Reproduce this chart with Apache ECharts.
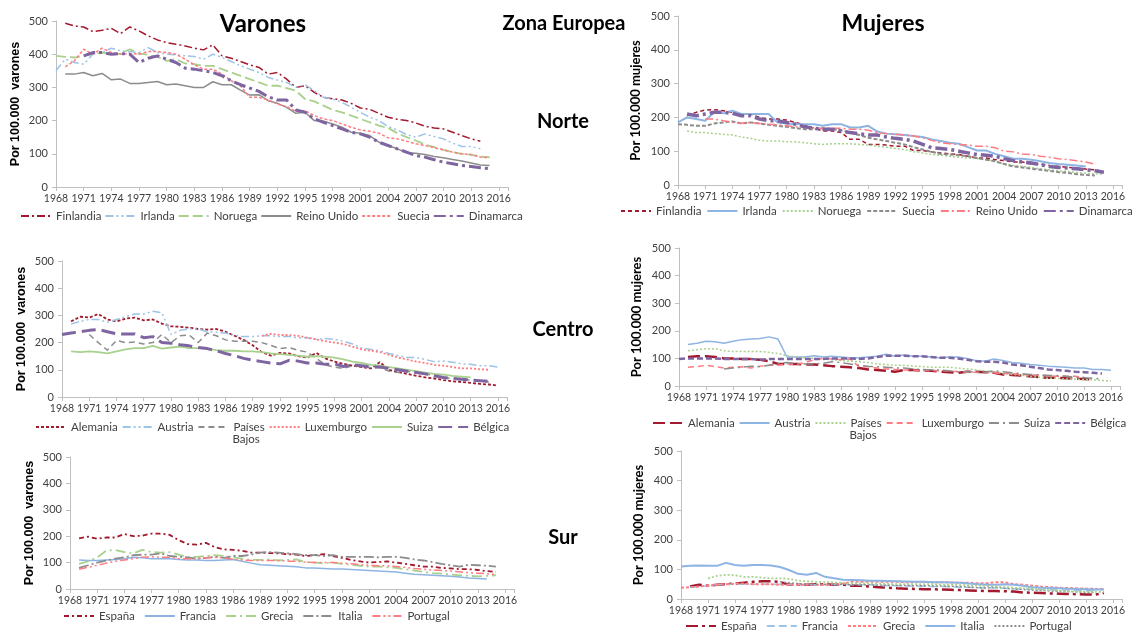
<!DOCTYPE html>
<html><head><meta charset="utf-8">
<script src="https://cdn.jsdelivr.net/npm/echarts@6/dist/echarts.min.js"></script>
<style>html,body{margin:0;padding:0;background:#fff}#c{width:1134px;height:632px}</style>
</head><body><div id="c"></div>
<script>
// ---------- tick labels ----------
const X_MIN = 1968, X_MAX = 2017, X_STEP = 3;
const Y_TICKS = [0, 100, 200, 300, 400, 500];

// ---------- Varones · Norte ----------
const VN_FINLANDIA = [493,485,482,468,472,478,462,482,470,455, 443,435,430,425,418,413,428,395,388,378, 368,360,340,345,325,300,305,285,270,266, 262,252,238,234,222,210,204,200,193,183, 178,175,165,155,145,138]; // 1969-
const VN_IRLANDA = [350,385,375,370,400,405,418,410,408,405, 420,405,400,398,395,393,385,400,390,378, 365,355,345,330,322,315,300,308,290,270, 265,255,240,225,210,200,182,172,158,150, 160,152,145,132,122,122,115]; // 1968-
const VN_NORUEGA = [395,392,390,395,400,405,400,402,415,402, 398,392,380,385,372,370,365,365,355,345, 335,325,315,305,305,298,290,265,258,245, 232,225,215,205,195,185,178,162,150,140, 128,120,112,105,100,97,92,90]; // 1968-
const VN_REINOUNIDO = [340,340,345,335,342,323,325,312,312,315, 318,308,310,305,300,300,317,308,308,292, 277,278,260,252,240,222,225,200,198,190, 180,165,162,155,135,125,115,103,102,98, 92,88,83,78,72,66,65]; // 1969-
const VN_SUECIA = [362,380,415,400,418,405,400,402,400,408, 408,405,400,385,368,355,355,340,320,305, 270,270,262,250,242,228,230,215,205,200, 190,180,172,168,162,148,145,138,130,125, 118,112,105,100,98,90,88]; // 1969-
const VN_DINAMARCA = [395,405,405,400,402,400,375,388,395,385, 375,358,355,350,345,335,320,308,298,288, 272,262,262,232,225,205,195,185,175,165, 160,150,135,125,115,105,95,90,82,75, 70,65,62,58,55]; // 1971-

// ---------- Mujeres · Norte ----------
const MN_FINLANDIA = [205,215,222,223,220,215,210,210,200,195, 195,192,185,178,168,160,160,155,135,135, 120,120,118,115,115,102,102,98,95,92, 90,85,80,80,75,72,68,68,62,62, 58,55,52,50,47,45,40]; // 1969-
const MN_IRLANDA = [185,200,195,190,215,212,220,210,210,210, 210,185,182,180,180,180,175,180,180,170, 170,175,158,152,150,148,145,142,135,130, 125,122,112,102,102,92,85,78,78,75, 70,65,62,60,58,55]; // 1968-
const MN_NORUEGA = [160,155,155,152,150,148,142,138,132,130, 130,128,128,125,122,120,122,122,122,120, 118,115,112,108,105,98,95,90,88,85, 82,80,78,75,70,62,58,55,52,48, 45,42,40,37,35,33,32]; // 1969-
const MN_SUECIA = [180,178,175,175,182,185,188,182,185,182, 178,175,172,168,165,165,168,165,162,155, 148,140,135,130,125,120,112,105,98,92, 90,88,85,80,75,70,62,55,52,48, 45,42,38,36,32,30,28]; // 1968-
const MN_REINOUNIDO = [195,195,190,185,183,185,182,180,178,175, 172,170,168,168,168,168,165,165,162,155, 152,150,148,145,140,132,125,122,120,118, 115,115,110,100,98,92,90,85,82,78, 75,72,68,62]; // 1971-
const MN_DINAMARCA = [210,205,210,215,215,212,205,205,195,190, 190,185,180,172,168,165,165,160,155,152, 148,148,142,138,135,130,120,110,108,105, 100,95,90,88,85,78,72,68,65,60, 55,52,50,48,45,42,38]; // 1969-

// ---------- Varones · Centro ----------
const VC_ALEMANIA = [278,295,292,305,285,278,288,292,282,285, 270,260,258,255,250,248,250,240,225,210, 190,165,152,162,160,150,145,162,142,130, 122,115,110,105,128,100,92,85,78,72, 68,62,58,55,52,48,46,42]; // 1969-
const VC_AUSTRIA = [268,278,285,285,275,285,295,305,305,315, 310,230,245,250,250,240,238,235,228,222, 222,225,225,222,222,218,218,212,215,212, 205,195,180,175,170,160,152,145,145,138, 130,132,128,122,120,115,115,110]; // 1969-
const VC_PAISESBAJOS = [230,200,172,208,200,202,195,200,230,200, 225,228,200,235,225,210,205,205,205,200, 190,178,182,172,165,142,118,110,105,115, 112,108,108,95,90,95,88,85,78,72, 68,65,62,60,55]; // 1971-
const VC_LUXEMBURGO = [225,232,228,228,225,218,212,205,200,195, 185,175,170,165,155,145,138,130,125,118, 115,110,105,105,102,100]; // 1990-
const VC_SUIZA = [168,165,168,165,160,168,175,180,180,188, 178,182,185,180,180,178,172,170,170,168, 168,165,160,158,155,152,148,150,148,145, 138,130,125,118,115,110,105,100,95,90, 85,82,78,75,72]; // 1969-
const VC_BELGICA = [230,235,240,245,248,240,232,232,232,218, 222,200,198,192,188,182,178,170,160,152, 142,135,130,125,122,135,132,125,125,120, 122,112,118,115,110,110,105,100,95,90, 85,78,72,68,65,62,60,58]; // 1968-

// ---------- Mujeres · Centro ----------
const MC_ALEMANIA = [105,108,108,105,100,100,98,98,95,90, 80,80,80,78,78,75,72,70,68,65, 60,58,55,52,58,58,55,55,52,50, 48,52,52,50,48,42,40,38,35,32, 30,30,28,27,25,24]; // 1969-
const MC_AUSTRIA = [150,155,162,160,155,162,168,170,172,178, 170,105,105,105,110,105,108,105,102,102, 105,108,115,108,112,108,108,105,102,105, 105,100,92,90,98,92,85,82,78,75, 72,70,68,65,65,60,60,57]; // 1969-
const MC_PAISESBAJOS = [128,132,135,135,128,125,125,125,125,122, 118,110,105,102,100,98,95,92,90,88, 85,80,78,75,75,72,70,68,68,68, 65,62,58,55,50,45,42,40,35,32, 28,28,25,25,23,22,20,18]; // 1969-
const MC_LUXEMBURGO = [68,70,75,70,65,68,70,65,72,75, 75,80,78,85,95,100,98,95,98,70, 70,65,62,60,58,58,55,55,55,55, 52,50,50,48,48,45,45,42,40,40, 38,35,35,35,32]; // 1969-
const MC_SUIZA = [62,65,68,72,70,75,82,85,82,80, 80,82,88,85,80,75,72,70,68,65, 65,62,60,58,58,55,52,52,50,50, 55,52,48,45,42,40,38,38,35,32, 30,28,25]; // 1973-
const MC_BELGICA = [98,100,100,100,100,98,98,98,98,95, 98,98,98,98,98,98,98,100,100,100, 98,100,105,110,110,110,108,108,105,102, 102,100,95,90,88,88,85,78,75,70, 65,60,58,55,52,50,48,45]; // 1968-

// ---------- Varones · Sur ----------
const VS_ESPANA = [192,198,190,195,195,208,200,202,210,210, 205,185,170,168,175,158,150,148,145,138, 138,136,135,132,130,125,128,132,125,118, 110,105,100,102,105,100,95,90,85,85, 80,78,75,75,72,68,65]; // 1969-
const VS_FRANCIA = [110,108,108,110,112,115,120,118,115,115, 115,112,110,110,108,108,110,112,105,98, 92,90,88,86,84,80,80,78,76,76, 74,72,70,68,66,64,60,56,54,52, 50,48,45,42,40,38]; // 1969-
const VS_GRECIA = [95,105,120,145,148,140,135,148,140,138, 140,130,120,122,125,128,125,120,115,110, 110,112,108,110,112,102,100,98,100,95, 92,88,85,85,82,80,75,70,65,60, 58,55,52,50,48,50,52]; // 1969-
const VS_ITALIA = [80,90,100,108,115,120,128,130,130,135, 125,122,120,115,118,122,118,125,125,130, 138,140,138,135,132,128,128,125,128,122, 122,122,122,120,122,122,118,112,108,102, 95,90,85,92,90,88,85]; // 1969-
const VS_PORTUGAL = [75,82,90,98,105,110,115,120,122,120, 120,115,115,115,118,120,118,112,110,108, 108,108,108,105,105,102,100,100,100,98, 96,92,90,88,88,85,82,78,75,72, 70,68,65,62,60,58,55]; // 1969-

// ---------- Mujeres · Sur ----------
const MS_ESPANA = [42,48,45,48,50,52,55,58,60,60, 58,48,48,48,50,50,48,48,45,45, 42,40,38,36,35,34,33,33,32,31, 30,29,28,27,27,26,25,22,21,20, 19,18,17,16,15,15,20]; // 1969-
const MS_FRANCIA = [40,42,45,48,50,50,50,50,50,50, 50,48,48,48,48,48,48,48,48,48, 48,46,45,45,44,44,43,42,42,41, 40,40,38,38,37,36,35,34,33,32, 31,30,30,29,28,28]; // 1969-
const MS_GRECIA = [38,40,42,45,48,50,52,52,50,50, 50,48,48,48,48,48,48,50,52,58, 58,58,58,58,58,57,57,58,57,57, 56,55,55,53,53,57,56,50,48,45, 42,40,38,37,36,35,34,33]; // 1968-
const MS_ITALIA = [110,112,113,112,112,122,115,112,115,115, 113,108,98,85,82,88,75,70,65,64, 63,62,62,61,60,59,58,58,57,57, 56,55,52,50,48,48,50,48,45,40, 38,37,36,35,34,33,32,32]; // 1968-
const MS_PORTUGAL = [58,55,52,50,50,50,50,50,48,48, 48,47,47,46,46,45,45,44,44,43, 42,40,38,37,40,36,34,32,30,29, 27,26,25,24,22,22]; // 1979-
const MS_OTRA = [70,78,82,80,75,75,72,70,70,68, 62,60,58,58,56,55,54,53,52,52, 51,50,50,50,50,50,48,48,47,46, 45,44,42,40,38,36,35,32,30,28, 26,25,25,24,24]; // 1971- (serie sin leyenda)

// ---------- colours ----------
const C = {red:'#A3192E', blue:'#9DC3E6', blue2:'#8EB4E3', green:'#A9D18E', gray:'#8C8C8C', pink:'#FF7C80', purple:'#7E64A0'};

const LEG_FONT = 11.5, LEG_ICON = 30;
const panels = [
  {grid:{left:56, top:21, width:452, height:166}, yname:'Por 100.000  varones', ynameFont:'Liberation Sans', ynameGap:34,
   legend:{left:20, top:210, itemGap:3},
   series:[
    ['Finlandia', 1969, VN_FINLANDIA, C.red, 1.5, [8,3,2,3]],
    ['Irlanda', 1968, VN_IRLANDA, C.blue, 1.5, [8,3,2,3,2,3]],
    ['Noruega', 1968, VN_NORUEGA, C.green, 1.8, [10,4]],
    ['Reino Unido', 1969, VN_REINOUNIDO, C.gray, 1.5, 'solid'],
    ['Suecia', 1969, VN_SUECIA, C.pink, 1.5, [3,2]],
    ['Dinamarca', 1971, VN_DINAMARCA, C.purple, 3, [12,4,3,4]]
   ]},
  {grid:{left:678, top:16, width:444, height:169}, yname:'Por 100.000 mujeres', ynameFont:'Lato', ynameGap:36,
   legend:{left:620, top:205, itemGap:5},
   series:[
    ['Finlandia', 1969, MN_FINLANDIA, C.red, 1.5, [4,3]],
    ['Irlanda', 1968, MN_IRLANDA, C.blue2, 2, 'solid'],
    ['Noruega', 1969, MN_NORUEGA, C.green, 1.5, [2,2]],
    ['Suecia', 1968, MN_SUECIA, C.gray, 2, [4,2]],
    ['Reino Unido', 1971, MN_REINOUNIDO, C.pink, 1.5, [8,3,2,3]],
    ['Dinamarca', 1969, MN_DINAMARCA, C.purple, 3.5, [12,4,3,4]]
   ]},
  {grid:{left:62, top:261, width:445, height:136}, yname:'Por 100.000  varones', ynameFont:'Liberation Sans', ynameGap:34,
   legend:{left:35, top:421, itemGap:4}, bajosY:439,
   series:[
    ['Alemania', 1969, VC_ALEMANIA, C.red, 1.8, [3,2]],
    ['Austria', 1969, VC_AUSTRIA, C.blue, 1.5, [8,3,2,3,2,3]],
    ['Países Bajos', 1971, VC_PAISESBAJOS, C.gray, 1.5, [6,4]],
    ['Luxemburgo', 1990, VC_LUXEMBURGO, C.pink, 1.8, [2,2]],
    ['Suiza', 1969, VC_SUIZA, C.green, 1.8, 'solid'],
    ['Bélgica', 1968, VC_BELGICA, C.purple, 3, [14,6]]
   ]},
  {grid:{left:679, top:248, width:441, height:138}, yname:'Por 100.000 mujeres', ynameFont:'Lato', ynameGap:36,
   legend:{left:652, top:417, itemGap:4}, bajosY:435,
   series:[
    ['Alemania', 1969, MC_ALEMANIA, C.red, 2.5, [12,5]],
    ['Austria', 1969, MC_AUSTRIA, C.blue2, 1.5, 'solid'],
    ['Países Bajos', 1969, MC_PAISESBAJOS, C.green, 1.5, [2,2]],
    ['Luxemburgo', 1969, MC_LUXEMBURGO, C.pink, 1.5, [6,4]],
    ['Suiza', 1973, MC_SUIZA, C.gray, 1.5, [10,4,2,4]],
    ['Bélgica', 1968, MC_BELGICA, C.purple, 2.5, [6,3]]
   ]},
  {grid:{left:70, top:457, width:444, height:132}, yname:'Por 100.000  varones', ynameFont:'Liberation Sans', ynameGap:34,
   legend:{left:63, top:610, itemGap:9},
   series:[
    ['España', 1969, VS_ESPANA, C.red, 1.8, [5,3,2,3]],
    ['Francia', 1969, VS_FRANCIA, C.blue2, 1.5, 'solid'],
    ['Grecia', 1969, VS_GRECIA, C.green, 1.8, [10,4,2,4]],
    ['Italia', 1969, VS_ITALIA, C.gray, 1.8, [10,3,2,3]],
    ['Portugal', 1969, VS_PORTUGAL, C.pink, 1.5, [8,3,2,3,2,3]]
   ]},
  {grid:{left:681, top:451, width:441, height:148}, yname:'Por 100.000 mujeres', ynameFont:'Lato', ynameGap:36,
   legend:{left:685, top:620, itemGap:9},
   series:[
    ['España', 1969, MS_ESPANA, C.red, 2.5, [12,4,3,4]],
    ['Francia', 1969, MS_FRANCIA, C.blue, 1.5, [8,4]],
    ['Grecia', 1968, MS_GRECIA, C.pink, 2, [3,2]],
    ['Italia', 1968, MS_ITALIA, C.blue2, 2, 'solid'],
    ['Portugal', 1979, MS_PORTUGAL, C.gray, 1.5, [2,2]],
    ['', 1971, MS_OTRA, C.green, 1.8, [2,2]]
   ]}
];

// text measuring (for placing the second line "Bajos" under the legend entry "Países")
const mctx = document.createElement('canvas').getContext('2d');
mctx.font = LEG_FONT + 'px Lato';
const tw = s => mctx.measureText(s).width;
const legendText = n => { const s = n.split('|')[0]; return s === 'Países Bajos' ? 'Países' : s; };

const grids = [], xAxes = [], yAxes = [], series = [], legends = [], extra = [];
const axisCol = '#BFBFBF', labCol = '#404040';
panels.forEach((p, i) => {
  grids.push(Object.assign({containLabel:false}, p.grid));
  xAxes.push({
    type:'value', gridIndex:i, min:X_MIN, max:X_MAX, interval:X_STEP,
    axisLine:{show:true, lineStyle:{color:axisCol}},
    axisTick:{show:true, length:4, lineStyle:{color:axisCol}},
    splitLine:{show:false},
    axisLabel:{margin:6, fontFamily:'Lato', fontSize:10.5, color:labCol,
      formatter: v => ((v - X_MIN) % X_STEP === 0 ? String(v) : '')}
  });
  yAxes.push({
    type:'value', gridIndex:i, min:Y_TICKS[0], max:Y_TICKS[Y_TICKS.length-1], interval:Y_TICKS[1]-Y_TICKS[0],
    axisLine:{show:true, lineStyle:{color:axisCol}},
    axisTick:{show:true, length:4, lineStyle:{color:axisCol}},
    splitLine:{show:false},
    axisLabel:{margin:8, fontFamily:'Lato', fontSize:11, color:labCol},
    name:p.yname, nameLocation:'middle', nameRotate:90, nameGap:p.ynameGap,
    nameTextStyle:{fontFamily:p.ynameFont, fontWeight:'bold', fontSize:p.ynameFont==='Lato'?13:12.5, color:'#000'}
  });
  const names = [];
  let cursor = p.legend.left;
  p.series.forEach(([nm, start, vals, col, w, dash], k) => {
    const id = nm ? nm + '|' + i : 'otra|' + i;
    if (nm) {
      names.push(id);
      const t = legendText(id), wT = tw(t);
      if (nm === 'Países Bajos') {
        extra.push({type:'text', x: cursor + LEG_ICON + 5 + wT / 2, y: p.bajosY,
          style:{text:'Bajos', fontFamily:'Lato', fontSize:LEG_FONT, fill:labCol, align:'center', verticalAlign:'middle'}});
      }
      cursor += LEG_ICON + 5 + wT + p.legend.itemGap;
    }
    series.push({
      name:id, type:'line', xAxisIndex:i, yAxisIndex:i, symbol:'none', smooth:false,
      data: vals.map((v, j) => [start + j, v]),
      lineStyle:{color:col, width:w, type:dash}, itemStyle:{color:col},
      z: 2 + k
    });
  });
  legends.push({
    data:names, left:p.legend.left, top:p.legend.top, width:600, padding:0, orient:'horizontal',
    itemGap:p.legend.itemGap, itemWidth:LEG_ICON, itemHeight:10,
    itemStyle:{opacity:0},
    textStyle:{fontFamily:'Lato', fontSize:LEG_FONT, color:labCol},
    formatter: legendText,
    selectedMode:false
  });
});

const T = (text, x, y, size) => ({type:'text', x, y, style:{text, fontFamily:'Lato', fontWeight:'bold', fontSize:size, fill:'#000', align:'center', verticalAlign:'middle'}});

const chart = echarts.init(document.getElementById('c'), null, {renderer:'canvas'});
chart.setOption({
  animation:false,
  backgroundColor:'#fff',
  grid:grids, xAxis:xAxes, yAxis:yAxes, series, legend:legends,
  graphic:[
    T('Varones', 263, 24, 24),
    T('Zona Europea', 564, 24, 20),
    T('Mujeres', 883, 24, 23),
    T('Norte', 563, 122, 20),
    T('Centro', 563, 330, 20),
    T('Sur', 563, 538, 20)
  ].concat(extra)
});
</script></body></html>
